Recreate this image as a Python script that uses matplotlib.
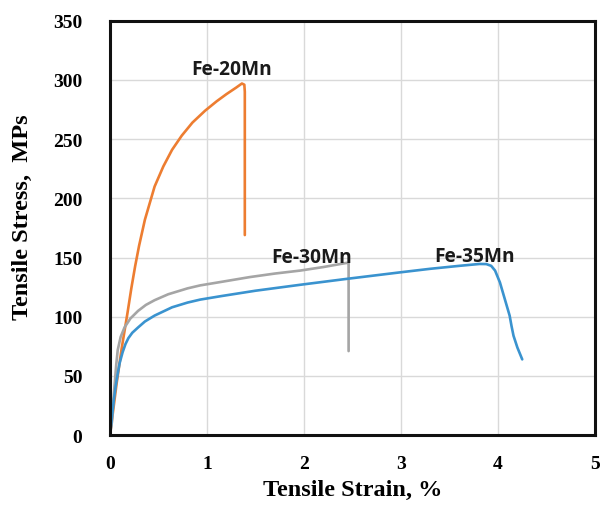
import matplotlib
matplotlib.use("Agg")
import matplotlib.pyplot as plt

# Data
fe20_strain = [0, 0.03, 0.069, 0.12, 0.182, 0.22, 0.26, 0.30, 0.36, 0.46, 0.55, 0.64, 0.74,
               0.85, 0.98, 1.10, 1.20, 1.30, 1.36, 1.385, 1.39, 1.39]
fe20_stress = [0, 19, 44, 73, 104, 124, 143, 160, 182, 210, 227, 241, 253,
               264, 274, 282, 288, 293.5, 297, 296, 290, 169]

fe30_strain = [0, 0.02, 0.035, 0.05, 0.065, 0.08, 0.11, 0.15, 0.21, 0.29, 0.37, 0.46, 0.60,
               0.80, 0.93, 1.15, 1.44, 1.70, 1.96, 2.20, 2.44, 2.46, 2.46]
fe30_stress = [0, 11, 30, 45, 60, 72, 83, 91, 98.5, 105, 110, 114, 119,
               124, 126.5, 129.5, 133.5, 136.5, 139, 142, 145.5, 145, 71]

fe35_strain = [0, 0.02, 0.04, 0.06, 0.08, 0.10, 0.13, 0.16, 0.19, 0.23, 0.29, 0.36, 0.46,
               0.64, 0.80, 0.93, 1.15, 1.50, 1.96, 2.44, 2.99, 3.30, 3.60, 3.81, 3.88, 3.93,
               3.97, 4.02, 4.07, 4.12, 4.14, 4.16, 4.20, 4.25]
fe35_stress = [0, 15, 30, 42, 52, 61, 70, 77, 82, 86.5, 91, 96, 101,
               108, 112, 114.5, 117.5, 122, 127, 132, 137.5, 140.5, 143, 144.6, 144.5, 143,
               139, 129, 115, 101, 92, 84, 74, 64]

labels = ["Fe-20Mn", "Fe-30Mn", "Fe-35Mn"]
label_pos = [(1.258, 305), (2.08, 146.6), (3.76, 147)]

x_ticks = [0, 1, 2, 3, 4, 5]
y_ticks = [0, 50, 100, 150, 200, 250, 300, 350]

fig = plt.figure(figsize=(6.01, 5.06), dpi=100)
ax = fig.add_axes([0.183, 0.138, 0.807, 0.819])

kw = dict(lw=1.9, solid_joinstyle="round", solid_capstyle="round")
ax.plot(fe20_strain, fe20_stress, color="#ED7D31", **kw)
ax.plot(fe30_strain, fe30_stress, color="#A5A5A5", **kw)
ax.plot(fe35_strain, fe35_stress, color="#3A93CF", **kw)

for t, (x, y) in zip(labels, label_pos):
    ax.text(x, y, t, ha="center", va="baseline", fontsize=13.8, family="Open Sans",
            fontweight="bold", color="#1a1a1a")

ax.set_xlim(0, 5)
ax.set_ylim(0, 350)
ax.set_xticks(x_ticks)
ax.set_yticks(y_ticks)
ax.set_xticklabels([str(v) for v in x_ticks], family="Liberation Serif", fontweight="bold", fontsize=14)
ax.set_yticklabels([str(v) for v in y_ticks], family="Liberation Serif", fontweight="bold", fontsize=14)
ax.tick_params(axis="x", length=0, pad=14)
ax.tick_params(axis="y", length=0, pad=20)
ax.grid(True, color="#D9D9D9", lw=1.0)
ax.set_axisbelow(True)
for s in ax.spines.values():
    s.set_linewidth(2.2)
    s.set_color("#111111")

ax.set_xlabel("Tensile Strain, %", family="Liberation Serif", fontweight="bold", fontsize=17.5, labelpad=5)
ax.set_ylabel("Tensile Stress,  MPs", family="Liberation Serif", fontweight="bold", fontsize=17.5)
ax.yaxis.set_label_coords(-0.159, 0.529)

fig.savefig("out.png", dpi=100)
